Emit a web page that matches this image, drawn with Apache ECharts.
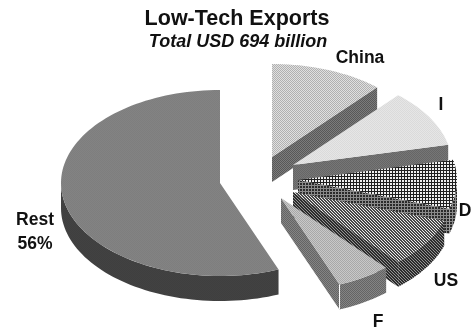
<!DOCTYPE html>
<html>
<head>
<meta charset="utf-8">
<style>html,body{margin:0;padding:0;background:#fff;overflow:hidden}#c{width:473px;height:332px}#c canvas{filter:blur(0.35px)}</style>
<script src="https://cdn.jsdelivr.net/npm/echarts@6/dist/echarts.min.js"></script>
</head>
<body>
<div id="c"></div>
<script>
var titleText = 'Low-Tech Exports';
var subtitleText = 'Total USD 694 billion';
var categories = ['China', 'I', 'D', 'US', 'F', 'Rest'];
var shares = [11.5, 10, 8.5, 8.5, 5.5, 56];
var labels = ['China', 'I', 'D', 'US', 'F', 'Rest\n56%'];

// layout (not data)
var RX = 159, RY = 93, DEPTH = 25;
var centers = [[272,157],[293,165],[298,180],[293,192],[281,198],[220,183]];
var labelPos = [[360,58],[441,105],[465,211],[446,281],[378,322],[35,232]];

function pat(rows, map) {
  var h = rows.length, w = rows[0].length;
  var c = document.createElement('canvas'); c.width = w; c.height = h;
  var g = c.getContext('2d');
  for (var y = 0; y < h; y++) for (var x = 0; x < w; x++) {
    g.fillStyle = map[rows[y][x]]; g.fillRect(x, y, 1, 1);
  }
  return { image: c, repeat: 'repeat' };
}
var check = ['ab', 'ba'];
var hatch = ['abb', 'bab', 'bba'];
var grid = ['aab', 'aab', 'bbb'];
var topFill = [
  pat(check, { a: '#b0b0b0', b: '#e0e0e0' }),
  pat(check, { a: '#dadada', b: '#e6e6e6' }),
  pat(grid, { a: '#f0f0f0', b: '#202020' }),
  pat(hatch, { a: '#ececec', b: '#484848' }),
  pat(check, { a: '#a8a8a8', b: '#c8c8c8' }),
  pat(check, { a: '#7e7e7e', b: '#838383' })
];
var wallFill = [
  pat(check, { a: '#585858', b: '#7c7c7c' }),
  pat(check, { a: '#666666', b: '#767676' }),
  pat(grid, { a: '#2a2a2a', b: '#8a8a8a' }),
  pat(hatch, { a: '#949494', b: '#2c2c2c' }),
  pat(check, { a: '#646464', b: '#848484' }),
  pat(check, { a: '#3f3f3f', b: '#424242' })
];

var total = shares.reduce(function (s, v) { return s + v; }, 0);

function pt(c, deg, dy) {
  var r = deg * Math.PI / 180;
  return [c[0] + RX * Math.sin(r), c[1] - RY * Math.cos(r) + (dy || 0)];
}
function arc(c, a, b, dy) {
  var out = [], n = Math.max(2, Math.ceil(Math.abs(b - a) / 2));
  for (var i = 0; i <= n; i++) out.push(pt(c, a + (b - a) * i / n, dy));
  return out;
}

function renderItem(params, api) {
  var i = params.dataIndex, before = 0;
  for (var k = 0; k < i; k++) before += shares[k];
  var a = before / total * 360;
  var b = a + api.value(1) / total * 360;
  var c = centers[i];
  var kids = [];
  if (b < 180) {
    var e = pt(c, b);
    kids.push({ type: 'polygon', shape: { points: [c, e, [e[0], e[1] + DEPTH], [c[0], c[1] + DEPTH]] },
      style: { fill: wallFill[i] } });
  }
  var wa = Math.max(a, 90), wb = Math.min(b, 270);
  if (wa < wb) {
    kids.push({ type: 'polygon',
      shape: { points: arc(c, wa, wb, 0).concat(arc(c, wb, wa, DEPTH)) },
      style: { fill: wallFill[i] } });
  }
  if (categories[i] === 'F') {
    var p = pt(c, b);
    kids.push({ type: 'line', shape: { x1: p[0], y1: p[1], x2: p[0], y2: p[1] + DEPTH },
      style: { stroke: '#fff', lineWidth: 1 } });
  }
  kids.push({ type: 'polygon', shape: { points: [c].concat(arc(c, a, b, 0)) },
    style: { fill: topFill[i] } });
  kids.push({ type: 'text', x: labelPos[i][0], y: labelPos[i][1],
    style: { text: labels[i], fill: '#111', align: 'center', verticalAlign: 'middle',
      font: 'bold 17.5px "Liberation Sans", Arial, sans-serif', lineHeight: 24 } });
  return { type: 'group', children: kids };
}

var chart = echarts.init(document.getElementById('c'), null, { renderer: 'canvas' });
chart.setOption({
  animation: false,
  backgroundColor: '#fff',
  title: [
    { text: titleText, left: 232, top: 3, textAlign: 'center',
      textStyle: { fontFamily: '"Liberation Sans", Arial, sans-serif', fontWeight: 'bold', fontSize: 21.5, color: '#111' } },
    { text: subtitleText, left: 233, top: 28, textAlign: 'center',
      textStyle: { fontFamily: '"Liberation Sans", Arial, sans-serif', fontWeight: 'bold', fontStyle: 'italic', fontSize: 18, color: '#111' } }
  ],
  series: [{
    type: 'custom',
    coordinateSystem: 'none',
    renderItem: renderItem,
    data: categories.map(function (n, i) { return { name: n, value: [i, shares[i]] }; })
  }]
});
</script>
</body>
</html>
